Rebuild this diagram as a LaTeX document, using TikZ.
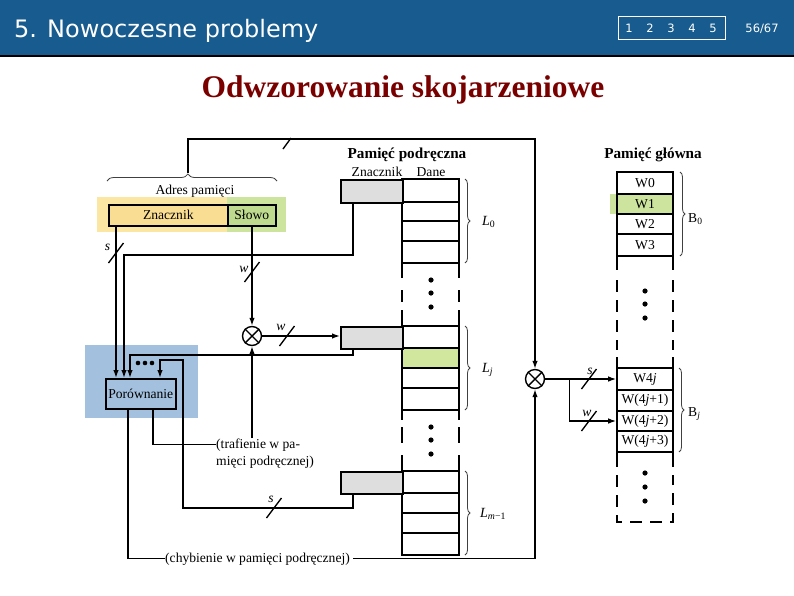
\documentclass[tikz,border=0pt]{standalone}
\usepackage{fontspec}
\setmainfont{Liberation Serif}
\newfontfamily\hdrfont{DejaVu Sans}
\usetikzlibrary{arrows.meta,decorations.pathreplacing}
\definecolor{hdrblue}{RGB}{24,91,142}
\definecolor{titlered}{RGB}{122,0,0}
\definecolor{yelhl}{RGB}{251,230,163}
\definecolor{yelbox}{RGB}{249,221,146}
\definecolor{grnhl}{RGB}{204,228,158}
\definecolor{grnbox}{RGB}{190,218,142}
\definecolor{bluehl}{RGB}{163,193,222}
\definecolor{taggray}{RGB}{222,222,222}
\definecolor{rowgreen}{RGB}{210,231,158}
\newcommand\slmark[1]{\draw[ln] ([shift={(-7.5,10)}]#1) -- ([shift={(7.5,-10)}]#1);}
\begin{document}
\begin{tikzpicture}[x=1pt,y=-1pt,
  ln/.style={line width=1.35pt},
  arr/.style={line width=1.35pt,-{Latex[length=8pt,width=5.5pt]}},
  bx/.style={draw,line width=1.6pt},
  txt/.style={font=\fontsize{13.6}{15}\selectfont,inner sep=0pt},
  itx/.style={font=\itshape\fontsize{13.6}{15}\selectfont,inner sep=0pt},
  bold/.style={font=\bfseries\fontsize{15.2}{17}\selectfont,inner sep=0pt},
  tagbox/.style={draw,line width=1.6pt,fill=taggray,minimum width=62pt,anchor=north west,inner sep=0pt},
  wrow/.style={draw,line width=1.6pt,minimum width=56pt,inner sep=0pt,font=\fontsize{13.6}{15}\selectfont},
  brc/.style={decorate,decoration={brace,amplitude=5pt},line width=0.8pt,draw=black!75},
  xnode/.style={draw,circle,line width=1.4pt,minimum size=19pt,inner sep=0pt},
  dotc/.style={fill,circle,inner sep=0pt,minimum size=5.2pt},
]
\useasboundingbox (0,0) rectangle (794,595);
\fill[white] (0,0) rectangle (794,595);

% ---------- header ----------
\fill[hdrblue] (0,0) rectangle (794,56);
\draw[line width=1.5pt] (0,56) -- (794,56);
\node[anchor=base west,text=white,font=\hdrfont\fontsize{24}{28}\selectfont,inner sep=0pt] (hdr) at (14,37) {5. Nowoczesne problemy};
\node[draw=white,line width=1.3pt,minimum width=107pt,minimum height=23pt,anchor=north west,inner sep=0pt] (navbox) at (618,16) {};
\foreach \n/\x in {1/629,2/650,3/671,4/692,5/713}
  \node[anchor=base,text=white,font=\hdrfont\fontsize{11.5}{13}\selectfont,inner sep=0pt] (nav\n) at (\x,32.5) {\n};
\node[anchor=base,text=white,font=\hdrfont\fontsize{11.5}{13}\selectfont,inner sep=0pt] (page) at (762,32.5) {56/67};

% ---------- title ----------
\node[anchor=base,text=titlered,font=\bfseries\fontsize{31.5}{36}\selectfont,inner sep=0pt] (title) at (403,97) {Odwzorowanie skojarzeniowe};

% ---------- address ----------
\fill[yelhl] (97,197) rectangle (227,232);
\fill[grnhl] (227,197) rectangle (286,232);
\node[bx,fill=yelbox,minimum width=119pt,minimum height=21pt,anchor=north west,txt] (znacz) at (108,204) {Znacznik};
\node[bx,fill=grnbox,minimum width=48pt,minimum height=21pt,anchor=north west,txt] (slowo) at (227,204) {Słowo};
\node[txt,anchor=base] (adres) at (195,194) {Adres pamięci};
\draw[brc,decoration={brace,amplitude=7pt,aspect=0.476}] (107,181) -- (277,181);
\coordinate (adrtip) at (188,173);
\coordinate (topR) at (535,139);

% ---------- cache ----------
\node[bold,anchor=base] (cachet) at (407,158) {Pamięć podręczna};
\node[txt,anchor=base] (ctag) at (377,176) {Znacznik};
\node[txt,anchor=base] (cdata) at (431,176) {Dane};
\fill[rowgreen] (402,348) rectangle (459,368);
\foreach \t/\a/\b/\c/\d in {179/202/221/241/263, 326/348/368/388/410, 471/493/513/533/555}{
  \draw[line width=1.6pt] (402,\t) rectangle (459,\d);
  \foreach \yy in {\a,\b,\c} \draw[line width=1.6pt] (402,\yy) -- (459,\yy);
}
\foreach \xx in {402,459}{
  \draw[line width=1.6pt] (\xx,263) -- (\xx,278) (\xx,290) -- (\xx,302) (\xx,310) -- (\xx,326)
                          (\xx,410) -- (\xx,420) (\xx,427) -- (\xx,443) (\xx,455) -- (\xx,471);
}
\node[tagbox,minimum height=23pt] (tag0) at (340,179) {};
\node[tagbox,minimum height=22pt] (tagj) at (340,326) {};
\node[tagbox,minimum height=22pt] (tagm) at (340,471) {};
\foreach \i/\yy in {1/280,2/293,3/307,4/427,5/440,6/454}
  \node[dotc] (cd\i) at (431,\yy) {};
\draw[brc] (465,179) -- (465,263);
\draw[brc] (465,326) -- (465,410);
\draw[brc] (465,471) -- (465,555);
\node[anchor=base west,inner sep=0pt,font=\fontsize{14}{15}\selectfont] (l0) at (482,225.5) {\textit{L}\textsubscript{0}};
\node[anchor=base west,inner sep=0pt,font=\fontsize{14}{15}\selectfont] (lj) at (482,372.5) {\textit{L}\textsubscript{\textit{j}}};
\node[anchor=base west,inner sep=0pt,font=\fontsize{14}{15}\selectfont] (lm) at (480,517.5) {\textit{L}\textsubscript{\textit{m}−1}};

% ---------- main memory ----------
\node[bold,anchor=base] (maint) at (653,158) {Pamięć główna};
\fill[grnhl] (610,194) rectangle (674,214);
\node[wrow,minimum height=22pt] (w0) at (645,183) {W0};
\node[wrow,minimum height=20pt] (w1) at (645,204) {W1};
\node[wrow,minimum height=20pt] (w2) at (645,224) {W2};
\node[wrow,minimum height=22pt] (w3) at (645,245) {W3};
\node[wrow,minimum height=22pt] (w4j) at (645,379) {W4\textit{j}};
\node[wrow,minimum height=21pt] (w41) at (645,400.5) {W(4\textit{j}+1)};
\node[wrow,minimum height=20pt] (w42) at (645,421) {W(4\textit{j}+2)};
\node[wrow,minimum height=21pt] (w43) at (645,441.5) {W(4\textit{j}+3)};
\foreach \xx in {617,673}{
  \draw[line width=1.6pt] (\xx,256) -- (\xx,270) (\xx,357) -- (\xx,368) (\xx,452) -- (\xx,467);
  \draw[line width=1.6pt,dash pattern=on 12pt off 8pt] (\xx,280) -- (\xx,350);
}
\draw[line width=1.6pt,dash pattern=on 12pt off 8pt] (617,475) -- (617,522) -- (673,522) -- (673,475);
\foreach \i/\yy in {1/291,2/304,3/318,4/473,5/487,6/501}
  \node[dotc] (md\i) at (645,\yy) {};
\draw[brc] (680,172) -- (680,256);
\draw[brc] (679,368) -- (679,452);
\node[anchor=base west,txt] (b0) at (688,222) {B\textsubscript{0}};
\node[anchor=base west,txt] (bj) at (688,416) {B\textsubscript{\textit{j}}};

% ---------- comparator & multiplexers ----------
\fill[bluehl] (85,345) rectangle (198,418);
\node[bx,fill=bluehl,minimum width=70pt,minimum height=30pt,anchor=north west,txt] (porow) at (105,378) {Porównanie};
\foreach \i/\xx in {1/138,2/145,3/152}
  \node[dotc,minimum size=4.6pt] (pd\i) at (\xx,363) {};
\node[xnode] (xs) at (252,336) {};
\draw[line width=1.4pt] (xs.north west) -- (xs.south east) (xs.north east) -- (xs.south west);
\node[xnode] (xm) at (535,379) {};
\draw[line width=1.4pt] (xm.north west) -- (xm.south east) (xm.north east) -- (xm.south west);

\node[txt,anchor=base west] (hitA) at (216,448) {(trafienie w pa-};
\node[txt,anchor=base west] (hitB) at (216,465) {mięci podręcznej)};
\node[txt,anchor=base west] (miss) at (165,562) {(chybienie w pamięci podręcznej)};

\coordinate (kA) at (116,0);
\coordinate (kB) at (124,255);
\coordinate (kC) at (130,355);
\coordinate (kD) at (160,360);
\coordinate (kE) at (183,508);

% ---------- connectors ----------
\draw[arr] (adrtip) |- (topR) -- (xm.north);
\draw[ln] (283,149) -- (291,138);
\draw[arr] (znacz.south -| kA) -- (porow.north -| kA);
\slmark{116,253}
\node[itx,anchor=base] (ls1) at (107.5,250) {s};
\draw[arr] (slowo.south -| xs.north) -- (xs.north);
\slmark{252,272}
\node[itx,anchor=base] (lw1) at (244,272) {w};
\draw[arr] (xs.east) -- (xs.east -| tagj.west);
\slmark{287,336}
\node[itx,anchor=base] (lw2) at (281,330) {w};
\draw[arr] ([xshift=13pt]tag0.south west) |- (kB) -- (kB |- porow.north);
\draw[arr] ([xshift=13pt]tagj.south west) |- (kC) -- (kC |- porow.north);
\draw[arr] ([xshift=13pt]tagm.south west) |- (kE) |- (kD) -- (kD |- porow.north);
\slmark{274,508}
\node[itx,anchor=base] (ls2) at (271,502) {s};
\draw[ln] ([xshift=48pt]porow.south west) |- (hitA.west);
\draw[arr] (hitA.north -| xs.south) -- (xs.south);
\draw[ln] ([xshift=23pt]porow.south west) |- (miss.west);
\draw[arr] ([xshift=3pt]miss.east) -| (xm.south);
\draw[arr] (xm.east) -- (xm.east -| w4j.west);
\slmark{589,379}
\node[itx,anchor=base] (ls3) at (590,374) {s};
\draw[arr] ([xshift=24pt]xm.east) |- (w42.west);
\slmark{589,421}
\node[itx,anchor=base] (lw3) at (587,416) {w};
\end{tikzpicture}
\end{document}
